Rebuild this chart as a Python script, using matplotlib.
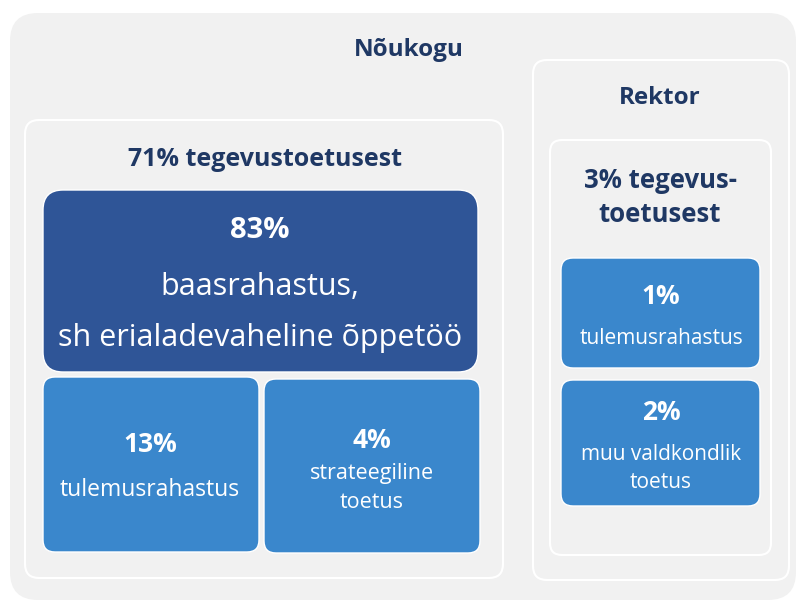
import matplotlib.pyplot as plt
from matplotlib.patches import FancyBboxPatch

plt.rcParams['font.family'] = ['Open Sans', 'DejaVu Sans']

# chart content
title_left = 'Nõukogu'
title_right = 'Rektor'
group_left = '71% tegevustoetusest'
group_right = '3% tegevus-\ntoetusest'

left_pct = ['83%', '13%', '4%']
left_lbl = ['baasrahastus,\nsh erialadevaheline õppetöö', 'tulemusrahastus', 'strateegiline\ntoetus']
right_pct = ['1%', '2%']
right_lbl = ['tulemusrahastus', 'muu valdkondlik\ntoetus']

navy = '#1F3864'
dark = '#2F5597'
mid = '#3A87CC'
bg = '#F1F1F1'

fig = plt.figure(figsize=(8, 6.03), dpi=100)
ax = fig.add_axes([0, 0, 1, 1])
ax.set_xlim(0, 800)
ax.set_ylim(603, 0)
ax.axis('off')


def box(x0, y0, x1, y1, fc, ec='none', r=12, lw=1.5):
    p = FancyBboxPatch((x0 + r, y0 + r), x1 - x0 - 2 * r, y1 - y0 - 2 * r,
                       boxstyle='round,pad=%d' % r, fc=fc, ec=ec, lw=lw)
    ax.add_patch(p)


def lines(x, y0, step, s, size, bold=False, color='white'):
    y0 = y0 + 3  # text sits a bit low in the original
    for i, t in enumerate(s.split('\n')):
        ax.text(x, y0 + i * step, t, ha='center', va='center', fontsize=size,
                fontweight='bold' if bold else 'normal', color=color)


# outer frames
box(10, 13, 796, 600, bg, r=28)
box(25, 120, 503, 578, bg, ec='white', r=14)
box(533, 60, 789, 580, bg, ec='white', r=14)
box(550, 140, 771, 555, bg, ec='white', r=12)

# left blocks
box(43, 190, 478, 372, dark, ec='white', r=20, lw=1)
box(43, 377, 259, 552, mid, ec='white', r=12, lw=1)
box(264, 379, 480, 553, mid, ec='white', r=12, lw=1)
# right blocks
box(561, 258, 760, 368, mid, ec='white', r=12, lw=1)
box(561, 380, 760, 506, mid, ec='white', r=12, lw=1)

lines(409, 47, 0, title_left, 17.5, True, navy)
lines(660, 95, 0, title_right, 17.5, True, navy)
lines(265, 156, 0, group_left, 18, True, navy)
lines(660, 177, 34, group_right, 18.5, True, navy)

lines(260, 227, 0, left_pct[0], 21, True)
lines(260, 284, 51, left_lbl[0], 22)

lines(150, 441, 0, left_pct[1], 19, True)
lines(150, 487, 0, left_lbl[1], 16.5)

lines(372, 437, 0, left_pct[2], 19, True)
lines(372, 471, 28, left_lbl[2], 15.5)

lines(661, 293, 0, right_pct[0], 19, True)
lines(661, 336, 0, right_lbl[0], 15)

lines(661, 409, 0, right_pct[1], 19, True)
lines(661, 452, 27, right_lbl[1], 15)

fig.savefig('out.png', dpi=100, facecolor='white')
